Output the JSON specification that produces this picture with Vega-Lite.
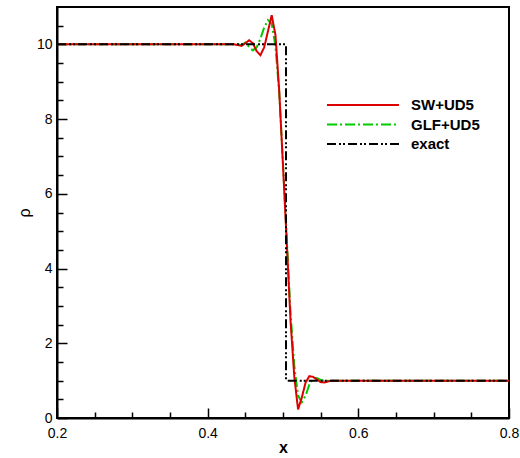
{
  "$schema": "https://vega.github.io/schema/vega-lite/v6.json",
  "width": 452,
  "height": 411,
  "autosize": "none",
  "padding": {"left": 57, "top": 7, "right": 11, "bottom": 40},
  "background": "white",
  "view": {"stroke": "black", "strokeWidth": 2},
  "config": {
    "font": "Liberation Sans",
    "axis": {
      "domain": true,
      "domainColor": "black",
      "domainWidth": 2,
      "grid": false,
      "labelFont": "Liberation Sans",
      "labelFontSize": 14,
      "labelColor": "black",
      "labelOverlap": false,
      "labelFlush": false,
      "tickColor": "black",
      "tickWidth": 1.5,
      "titleFont": "Liberation Sans",
      "titleColor": "black",
      "titleFontSize": 16
    }
  },
  "data": {
    "values": [
      {"series": "GLF+UD5", "i": 0, "x": 0.2, "rho": 10},
      {"series": "GLF+UD5", "i": 1, "x": 0.435, "rho": 10},
      {"series": "GLF+UD5", "i": 2, "x": 0.44, "rho": 10},
      {"series": "GLF+UD5", "i": 3, "x": 0.445, "rho": 9.98},
      {"series": "GLF+UD5", "i": 4, "x": 0.45, "rho": 10.05},
      {"series": "GLF+UD5", "i": 5, "x": 0.455, "rho": 9.93},
      {"series": "GLF+UD5", "i": 6, "x": 0.46, "rho": 9.84},
      {"series": "GLF+UD5", "i": 7, "x": 0.465, "rho": 9.92},
      {"series": "GLF+UD5", "i": 8, "x": 0.47, "rho": 10.15},
      {"series": "GLF+UD5", "i": 9, "x": 0.475, "rho": 10.45},
      {"series": "GLF+UD5", "i": 10, "x": 0.48, "rho": 10.65},
      {"series": "GLF+UD5", "i": 11, "x": 0.485, "rho": 10.55},
      {"series": "GLF+UD5", "i": 12, "x": 0.49, "rho": 9.95},
      {"series": "GLF+UD5", "i": 13, "x": 0.495, "rho": 8.7},
      {"series": "GLF+UD5", "i": 14, "x": 0.5, "rho": 6.8},
      {"series": "GLF+UD5", "i": 15, "x": 0.505, "rho": 4.8},
      {"series": "GLF+UD5", "i": 16, "x": 0.51, "rho": 2.8},
      {"series": "GLF+UD5", "i": 17, "x": 0.515, "rho": 1.4},
      {"series": "GLF+UD5", "i": 18, "x": 0.52, "rho": 0.6},
      {"series": "GLF+UD5", "i": 19, "x": 0.525, "rho": 0.42},
      {"series": "GLF+UD5", "i": 20, "x": 0.53, "rho": 0.6},
      {"series": "GLF+UD5", "i": 21, "x": 0.535, "rho": 0.9},
      {"series": "GLF+UD5", "i": 22, "x": 0.54, "rho": 1.05},
      {"series": "GLF+UD5", "i": 23, "x": 0.545, "rho": 1.07},
      {"series": "GLF+UD5", "i": 24, "x": 0.55, "rho": 1.02},
      {"series": "GLF+UD5", "i": 25, "x": 0.555, "rho": 0.99},
      {"series": "GLF+UD5", "i": 26, "x": 0.56, "rho": 1},
      {"series": "GLF+UD5", "i": 27, "x": 0.8, "rho": 1},

      {"series": "SW+UD5", "i": 0, "x": 0.2, "rho": 10},
      {"series": "SW+UD5", "i": 1, "x": 0.435, "rho": 10},
      {"series": "SW+UD5", "i": 2, "x": 0.44, "rho": 9.98},
      {"series": "SW+UD5", "i": 3, "x": 0.445, "rho": 9.96},
      {"series": "SW+UD5", "i": 4, "x": 0.45, "rho": 10.03},
      {"series": "SW+UD5", "i": 5, "x": 0.455, "rho": 10.11},
      {"series": "SW+UD5", "i": 6, "x": 0.46, "rho": 10.03},
      {"series": "SW+UD5", "i": 7, "x": 0.465, "rho": 9.82},
      {"series": "SW+UD5", "i": 8, "x": 0.47, "rho": 9.71},
      {"series": "SW+UD5", "i": 9, "x": 0.475, "rho": 9.92},
      {"series": "SW+UD5", "i": 10, "x": 0.48, "rho": 10.35},
      {"series": "SW+UD5", "i": 11, "x": 0.485, "rho": 10.78},
      {"series": "SW+UD5", "i": 12, "x": 0.49, "rho": 10.25},
      {"series": "SW+UD5", "i": 13, "x": 0.495, "rho": 8.75},
      {"series": "SW+UD5", "i": 14, "x": 0.5, "rho": 6.75},
      {"series": "SW+UD5", "i": 15, "x": 0.505, "rho": 4.7},
      {"series": "SW+UD5", "i": 16, "x": 0.51, "rho": 2.6},
      {"series": "SW+UD5", "i": 17, "x": 0.515, "rho": 1.1},
      {"series": "SW+UD5", "i": 18, "x": 0.52, "rho": 0.23},
      {"series": "SW+UD5", "i": 19, "x": 0.525, "rho": 0.55},
      {"series": "SW+UD5", "i": 20, "x": 0.53, "rho": 0.95},
      {"series": "SW+UD5", "i": 21, "x": 0.535, "rho": 1.12},
      {"series": "SW+UD5", "i": 22, "x": 0.54, "rho": 1.1},
      {"series": "SW+UD5", "i": 23, "x": 0.545, "rho": 1.03},
      {"series": "SW+UD5", "i": 24, "x": 0.55, "rho": 0.96},
      {"series": "SW+UD5", "i": 25, "x": 0.555, "rho": 0.95},
      {"series": "SW+UD5", "i": 26, "x": 0.56, "rho": 0.98},
      {"series": "SW+UD5", "i": 27, "x": 0.565, "rho": 1},
      {"series": "SW+UD5", "i": 28, "x": 0.8, "rho": 1},

      {"series": "exact", "i": 0, "x": 0.2, "rho": 10},
      {"series": "exact", "i": 1, "x": 0.504, "rho": 10},
      {"series": "exact", "i": 2, "x": 0.504, "rho": 1},
      {"series": "exact", "i": 3, "x": 0.8, "rho": 1}
    ]
  },
  "resolve": {"axis": {"x": "independent", "y": "independent"}},
  "layer": [
    {
      "description": "minor ticks only, drawn by an invisible copy of the lines",
      "mark": {"type": "line", "opacity": 0},
      "encoding": {
        "x": {
          "field": "x",
          "type": "quantitative",
          "scale": {"domain": [0.2, 0.8], "nice": false, "zero": false},
          "axis": {
            "orient": "bottom",
            "title": null,
            "labels": false,
            "domain": false,
            "values": [0.25, 0.3, 0.35, 0.45, 0.5, 0.55, 0.65, 0.7, 0.75],
            "tickSize": -6
          }
        },
        "y": {
          "field": "rho",
          "type": "quantitative",
          "scale": {"domain": [0, 11], "nice": false},
          "axis": {
            "orient": "left",
            "title": null,
            "labels": false,
            "domain": false,
            "values": [0.5, 1, 1.5, 2.5, 3, 3.5, 4.5, 5, 5.5, 6.5, 7, 7.5, 8.5, 9, 9.5, 10.5],
            "tickSize": -6
          }
        },
        "detail": {"field": "series"}
      }
    },
    {
      "mark": {"type": "line", "strokeWidth": 2, "clip": true},
      "encoding": {
        "x": {
          "field": "x",
          "type": "quantitative",
          "scale": {"domain": [0.2, 0.8], "nice": false, "zero": false},
          "axis": {
            "orient": "bottom",
            "title": "x",
            "titleFontWeight": "bold",
            "titlePadding": -1,
            "values": [0.2, 0.4, 0.6, 0.8],
            "format": ".1f",
            "labelPadding": 18,
            "tickSize": -10
          }
        },
        "y": {
          "field": "rho",
          "type": "quantitative",
          "scale": {"domain": [0, 11], "nice": false},
          "axis": {
            "orient": "left",
            "title": "ρ",
            "titleFontWeight": "normal",
            "titlePadding": 4,
            "values": [0, 2, 4, 6, 8, 10],
            "format": "d",
            "labelPadding": 15,
            "tickSize": -10
          }
        },
        "order": {"field": "i", "type": "quantitative"},
        "color": {
          "field": "series",
          "type": "nominal",
          "scale": {"domain": ["SW+UD5", "GLF+UD5", "exact"], "range": ["#dd0000", "#00cc00", "#000000"]},
          "legend": {
            "title": null,
            "orient": "none",
            "legendX": 269,
            "legendY": 90,
            "symbolType": "stroke",
            "symbolSize": 5184,
            "symbolStrokeWidth": 2,
            "clipHeight": 16,
            "labelFontSize": 15,
            "labelFontWeight": "bold",
            "labelColor": "black",
            "labelOffset": 11,
            "rowPadding": 3.5
          }
        },
        "strokeDash": {
          "field": "series",
          "type": "nominal",
          "scale": {"domain": ["SW+UD5", "GLF+UD5", "exact"], "range": [[1, 0], [10, 3, 2, 3], [9, 3, 2, 2, 2, 3]]}
        }
      }
    }
  ]
}
